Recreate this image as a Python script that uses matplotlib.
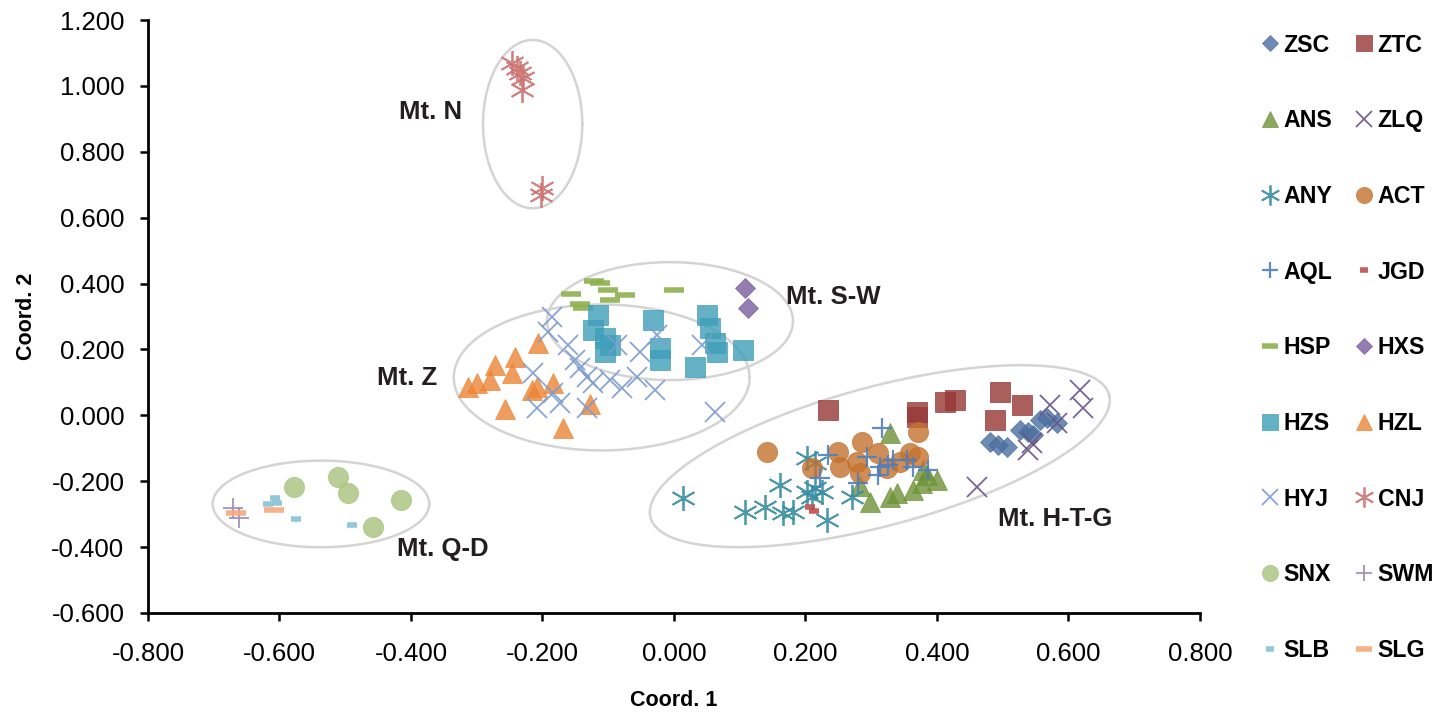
import numpy as np
import matplotlib.pyplot as plt

plt.rcParams['font.family'] = ['Liberation Sans', 'DejaVu Sans']

# population names (Excel series order)
names = ['ZSC', 'ZTC', 'ANS', 'ZLQ', 'ANY', 'ACT', 'AQL', 'JGD', 'HSP',
         'HXS', 'HZS', 'HZL', 'HYJ', 'CNJ', 'SNX', 'SWM', 'SLB', 'SLG']

zsc_x = [0.481, 0.493, 0.506, 0.526, 0.538, 0.546, 0.557, 0.567, 0.582]
zsc_y = [-0.081, -0.090, -0.096, -0.045, -0.051, -0.060, -0.014, -0.008, -0.023]
ztc_x = [0.234, 0.370, 0.370, 0.412, 0.427, 0.496, 0.529, 0.488]
ztc_y = [0.016, 0.010, -0.005, 0.040, 0.046, 0.071, 0.031, -0.014]
ans_x = [0.328, 0.379, 0.400, 0.377, 0.364, 0.339, 0.329, 0.298, 0.385, 0.283]
ans_y = [-0.054, -0.166, -0.196, -0.206, -0.227, -0.236, -0.248, -0.262, -0.181, -0.215]
zlq_x = [0.617, 0.622, 0.572, 0.582, 0.545, 0.538, 0.461]
zlq_y = [0.077, 0.022, 0.031, -0.023, -0.085, -0.105, -0.218]
any_x = [0.014, 0.108, 0.138, 0.161, 0.166, 0.181, 0.202, 0.214, 0.225, 0.210,
         0.233, 0.271, 0.202, 0.214]
any_y = [-0.251, -0.294, -0.279, -0.212, -0.297, -0.294, -0.233, -0.221, -0.233,
         -0.248, -0.318, -0.248, -0.130, -0.145]
act_x = [0.141, 0.210, 0.249, 0.252, 0.286, 0.278, 0.310, 0.324, 0.344, 0.359,
         0.371, 0.371, 0.283]
act_y = [-0.111, -0.160, -0.111, -0.157, -0.081, -0.142, -0.115, -0.160, -0.142,
         -0.115, -0.127, -0.051, -0.175]
aql_x = [0.316, 0.234, 0.293, 0.313, 0.326, 0.333, 0.354, 0.364, 0.386, 0.222,
         0.280, 0.310]
aql_y = [-0.039, -0.121, -0.127, -0.157, -0.151, -0.136, -0.136, -0.157, -0.166,
         -0.190, -0.206, -0.181]
jgd_x = [0.207, 0.213]
jgd_y = [-0.279, -0.290]
hsp_x = [-0.122, -0.156, -0.100, -0.075, -0.097, -0.143, -0.138, 0.000, -0.113]
hsp_y = [0.408, 0.368, 0.380, 0.365, 0.350, 0.338, 0.326, 0.380, 0.402]
hxs_x = [0.108, 0.113]
hxs_y = [0.386, 0.326]
hzs_x = [-0.116, -0.123, -0.105, -0.097, -0.105, -0.032, -0.021, -0.021, 0.050,
         0.055, 0.062, 0.065, 0.105, 0.032]
hzs_y = [0.304, 0.259, 0.235, 0.213, 0.192, 0.289, 0.204, 0.168, 0.304, 0.265,
         0.219, 0.192, 0.198, 0.147]
hzl_x = [-0.207, -0.242, -0.272, -0.246, -0.313, -0.300, -0.280, -0.216, -0.209,
         -0.184, -0.257, -0.128, -0.169]
hzl_y = [0.219, 0.177, 0.153, 0.128, 0.086, 0.098, 0.107, 0.077, 0.086, 0.098,
         0.019, 0.034, -0.039]
hyj_x = [-0.186, -0.192, -0.161, -0.214, -0.151, -0.143, -0.132, -0.123, -0.184,
         -0.209, -0.173, -0.132, -0.097, -0.087, -0.079, -0.052, -0.056, -0.029,
         -0.026, 0.043, 0.062]
hyj_y = [0.298, 0.253, 0.213, 0.128, 0.168, 0.143, 0.116, 0.098, 0.068, 0.022,
         0.037, 0.022, 0.107, 0.213, 0.083, 0.192, 0.116, 0.077, 0.244, 0.213,
         0.010]
cnj_x = [-0.246, -0.239, -0.234, -0.229, -0.231, -0.201, -0.202]
cnj_y = [1.069, 1.054, 1.039, 1.024, 0.988, 0.690, 0.669]
snx_x = [-0.578, -0.511, -0.496, -0.415, -0.458]
snx_y = [-0.218, -0.187, -0.236, -0.257, -0.339]
swm_x = [-0.670, -0.661]
swm_y = [-0.282, -0.311]
slb_x = [-0.607, -0.617, -0.604, -0.575, -0.490]
slb_y = [-0.251, -0.270, -0.266, -0.315, -0.333]
slg_x = [-0.666, -0.609]
slg_y = [-0.297, -0.288]

# mountain groups: label, label position, ellipse centre, semi-axes (x units), angle
groups = ['Mt. N', 'Mt. S-W', 'Mt. Z', 'Mt. H-T-G', 'Mt. Q-D']
label_x = [-0.371, 0.242, -0.406, 0.579, -0.351]
label_y = [0.921, 0.359, 0.113, -0.315, -0.406]
ell_cx = [-0.215, -0.006, -0.110, 0.313, -0.537]
ell_cy = [0.884, 0.286, 0.115, -0.124, -0.269]
ell_a = [0.0755, 0.187, 0.225, 0.361, 0.1647]
ell_b = [0.128, 0.0897, 0.111, 0.1057, 0.0659]
ell_ang = [0, 0, 0, 15, 0]

data = {
    'ZSC': (zsc_x, zsc_y), 'ZTC': (ztc_x, ztc_y), 'ANS': (ans_x, ans_y),
    'ZLQ': (zlq_x, zlq_y), 'ANY': (any_x, any_y), 'ACT': (act_x, act_y),
    'AQL': (aql_x, aql_y), 'JGD': (jgd_x, jgd_y), 'HSP': (hsp_x, hsp_y),
    'HXS': (hxs_x, hxs_y), 'HZS': (hzs_x, hzs_y), 'HZL': (hzl_x, hzl_y),
    'HYJ': (hyj_x, hyj_y), 'CNJ': (cnj_x, cnj_y), 'SNX': (snx_x, snx_y),
    'SWM': (swm_x, swm_y), 'SLB': (slb_x, slb_y), 'SLG': (slg_x, slg_y),
}

ast = (6, 2, 0)  # asterisk
# marker, colour, size, edge width, filled
styles = {
    'ZSC': ('D', '#4a6fa0', 10.5, 0, True),
    'ZTC': ('s', '#953735', 14, 0, True),
    'ANS': ('^', '#6f9238', 14, 0, True),
    'ZLQ': ('x', '#6a5488', 14, 1.3, False),
    'ANY': (ast, '#3a8ea3', 18, 1.3, False),
    'ACT': ('o', '#c4722e', 14.5, 0, True),
    'AQL': ('+', '#4f7fbd', 14, 1.6, False),
    'JGD': ('_', '#c0504d', 7, 4, False),
    'HSP': ('_', '#8db14e', 14, 4, False),
    'HXS': ('D', '#7a5c9c', 10.5, 0, True),
    'HZS': ('s', '#3e9fb8', 14, 0, True),
    'HZL': ('^', '#ec8536', 14, 0, True),
    'HYJ': ('x', '#7b9bd0', 14, 1.3, False),
    'CNJ': (ast, '#cd7472', 18, 1.3, False),
    'SNX': ('o', '#a6c27c', 14.5, 0, True),
    'SWM': ('+', '#9a86b8', 14, 1.3, False),
    'SLB': ('_', '#86c2d5', 7, 4, False),
    'SLG': ('_', '#f5aa7a', 14, 4, False),
}

fig = plt.figure(figsize=(14.51, 7.13), dpi=100)
ax = fig.add_axes([148 / 1451, 1 - 613 / 713, 1052 / 1451, 593 / 713])

handles = {}
for n in names:
    mk, col, ms, mew, filled = styles[n]
    x, y = data[n]
    if filled:
        h, = ax.plot(x, y, ls='none', marker=mk, ms=ms, mfc=col, mec=col,
                     mew=0.6, alpha=0.8)
    else:
        h, = ax.plot(x, y, ls='none', marker=mk, ms=ms, mec=col, mew=mew,
                     alpha=0.9)
    handles[n] = h

ax.set_xlim(-0.8, 0.8)
ax.set_ylim(-0.6, 1.2)

# ellipses drawn in screen-proportional units
bbox = ax.get_window_extent()
r = (bbox.width / 1.6) / (bbox.height / 1.8)
t = np.linspace(0, 2 * np.pi, 300)
for i in range(len(groups)):
    th = np.deg2rad(ell_ang[i])
    u = ell_a[i] * np.cos(t)
    v = ell_b[i] * np.sin(t)
    ex = ell_cx[i] + u * np.cos(th) - v * np.sin(th)
    ey = ell_cy[i] + (u * np.sin(th) + v * np.cos(th)) * r
    ax.plot(ex, ey, color='#d4d4d4', lw=1.8, zorder=1)
    ax.text(label_x[i], label_y[i], groups[i], fontsize=18.5, fontweight='bold',
            color='#231f20', ha='center', va='center')


def fmt(v, p):
    if abs(v) < 1e-9:
        v = 0.0
    return '%.3f' % v


ax.set_xticks(np.arange(-0.8, 0.81, 0.2))
ax.set_yticks(np.arange(-0.6, 1.21, 0.2))
ax.xaxis.set_major_formatter(plt.FuncFormatter(fmt))
ax.yaxis.set_major_formatter(plt.FuncFormatter(fmt))
ax.tick_params(axis='both', direction='out', length=6, width=1.8, labelsize=18.5)
ax.tick_params(axis='x', pad=15)
ax.tick_params(axis='y', pad=11)
for s in ['top', 'right']:
    ax.spines[s].set_visible(False)
for s in ['left', 'bottom']:
    ax.spines[s].set_linewidth(2)

ax.set_xlabel('Coord. 1', fontsize=15.5, fontweight='bold', labelpad=17)
ax.set_ylabel('Coord. 2', fontsize=15.5, fontweight='bold', labelpad=10)

col1 = ['ZSC', 'ANS', 'ANY', 'AQL', 'HSP', 'HZS', 'HYJ', 'SNX', 'SLB']
col2 = ['ZTC', 'ZLQ', 'ACT', 'JGD', 'HXS', 'HZL', 'CNJ', 'SWM', 'SLG']
order = col1 + col2
leg = fig.legend([handles[n] for n in order], order, ncol=2, frameon=False,
                 loc='upper left', bbox_to_anchor=(1250 / 1451, 1 - 22 / 713),
                 prop={'weight': 'bold', 'size': 16.7}, markerscale=0.8,
                 handlelength=0.7, handletextpad=0.25, columnspacing=1.0,
                 labelspacing=2.27, borderpad=0)

fig.savefig('out.png', dpi=100)
